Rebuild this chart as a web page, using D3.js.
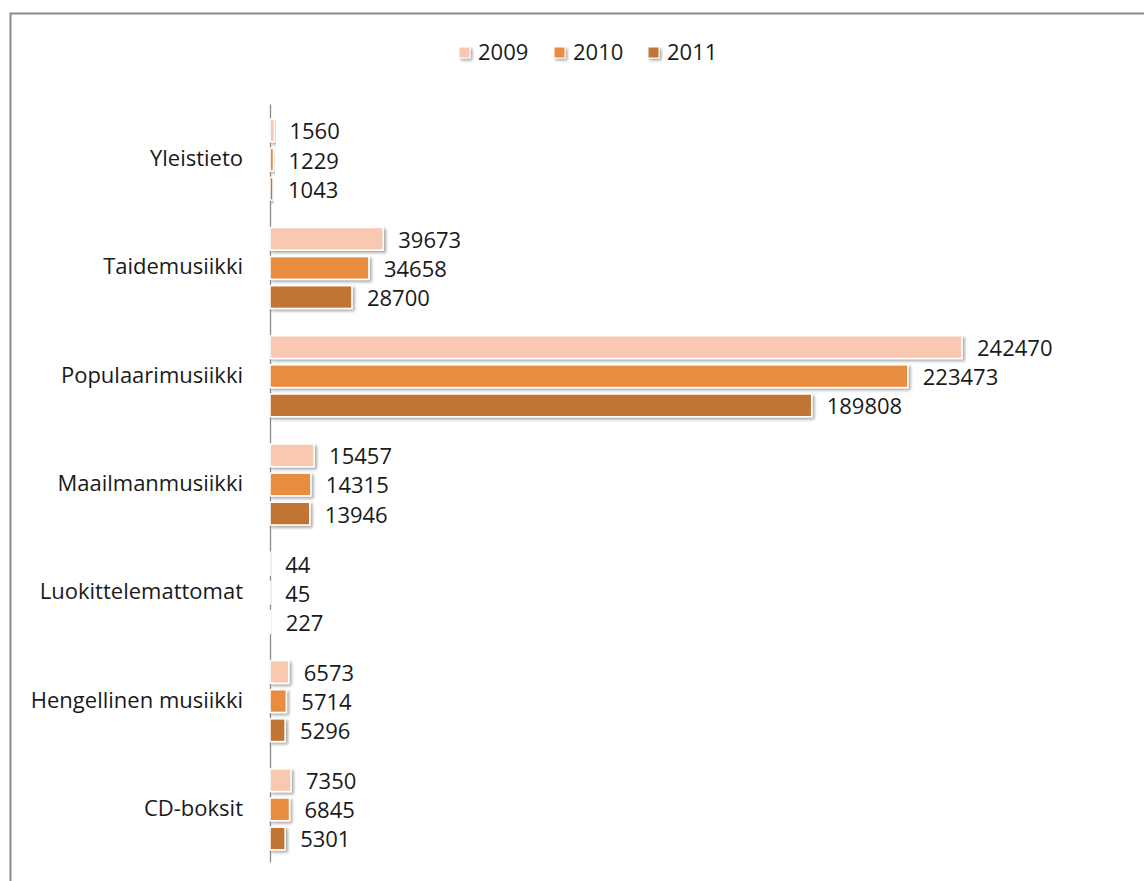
<!DOCTYPE html>
<html><head><meta charset="utf-8">
<script src="https://cdn.jsdelivr.net/npm/d3@7"></script>
<style>body{margin:0;background:#fff}svg{display:block}</style>
</head><body>
<svg id="c" width="1144" height="881"></svg>
<script>
const categories = ["Yleistieto","Taidemusiikki","Populaarimusiikki","Maailmanmusiikki","Luokittelemattomat","Hengellinen musiikki","CD-boksit"];
const seriesNames = ["2009","2010","2011"];
const values2009 = [1560,39673,242470,15457,44,6573,7350];
const values2010 = [1229,34658,223473,14315,45,5714,6845];
const values2011 = [1043,28700,189808,13946,227,5296,5301];
const colors = ["#F9C8B1","#E88C41","#C17535"];

const seriesValues = [values2009, values2010, values2011];
const svg = d3.select("#c");
const font = "'Open Sans', sans-serif";
const fs = 22;

// frame
svg.append("rect").attr("x",10.5).attr("y",13.5).attr("width",1200).attr("height",1000)
  .attr("fill","none").attr("stroke","#8c8c8c").attr("stroke-width",2);

const defs = svg.append("defs");
const f = defs.append("filter").attr("id","sh").attr("x","-20%").attr("y","-40%").attr("width","150%").attr("height","200%");
f.append("feGaussianBlur").attr("in","SourceAlpha").attr("stdDeviation",1.5).attr("result","b");
f.append("feOffset").attr("in","b").attr("dx",2).attr("dy",2).attr("result","o");
f.append("feComponentTransfer").attr("in","o").attr("result","o2").append("feFuncA").attr("type","linear").attr("slope",0.35);
const m = f.append("feMerge"); m.append("feMergeNode").attr("in","o2"); m.append("feMergeNode").attr("in","SourceGraphic");

const x = d3.scaleLinear().domain([0,242470]).range([270,962]);
const y = d3.scaleBand().domain(categories).range([104,862]);
const inner = d3.scaleBand().domain(seriesNames).range([0,81]).paddingInner(0.22);

const yAxis = d3.axisLeft(y).tickSize(0).tickPadding(27);
const ga = svg.append("g").attr("transform","translate(270,0)").call(yAxis);
ga.select(".domain").attr("stroke","#8a8a8a").attr("stroke-width",1.3);
ga.selectAll("text").attr("font-family",font).attr("font-size",fs).attr("fill","#1a1a1a");
ga.selectAll(".tick text").attr("transform","translate(0,1)");

const groups = svg.append("g").selectAll("g").data(categories).join("g")
  .attr("transform",d=>`translate(0,${y(d)+y.bandwidth()/2-39})`);

seriesNames.forEach((s,si)=>{
  groups.append("rect")
    .attr("x",x(0))
    .attr("y",inner(s))
    .attr("width",(d,i)=>Math.max(0,x(seriesValues[si][i])-x(0)))
    .attr("height",inner.bandwidth())
    .attr("fill",colors[si]).attr("stroke","#fff").attr("stroke-width",1.5)
    .attr("filter","url(#sh)");
  groups.append("text")
    .attr("x",(d,i)=>x(seriesValues[si][i])+15)
    .attr("y",inner(s)+inner.bandwidth()/2+1)
    .attr("dy","0.36em")
    .attr("font-family",font).attr("font-size",fs).attr("fill","#1a1a1a")
    .text((d,i)=>seriesValues[si][i]);
});

// legend
const lx = [459,554,648];
const lg = svg.append("g").selectAll("g").data(seriesNames).join("g")
  .attr("transform",(d,i)=>`translate(${lx[i]},47)`);
lg.append("rect").attr("width",11).attr("height",11).attr("fill",(d,i)=>colors[i])
  .attr("stroke","#fff").attr("stroke-width",1).attr("filter","url(#sh)");
lg.append("text").attr("x",19).attr("y",5.5).attr("dy","0.36em")
  .attr("font-family",font).attr("font-size",fs).attr("fill","#1a1a1a").text(d=>d);
</script>
</body></html>
